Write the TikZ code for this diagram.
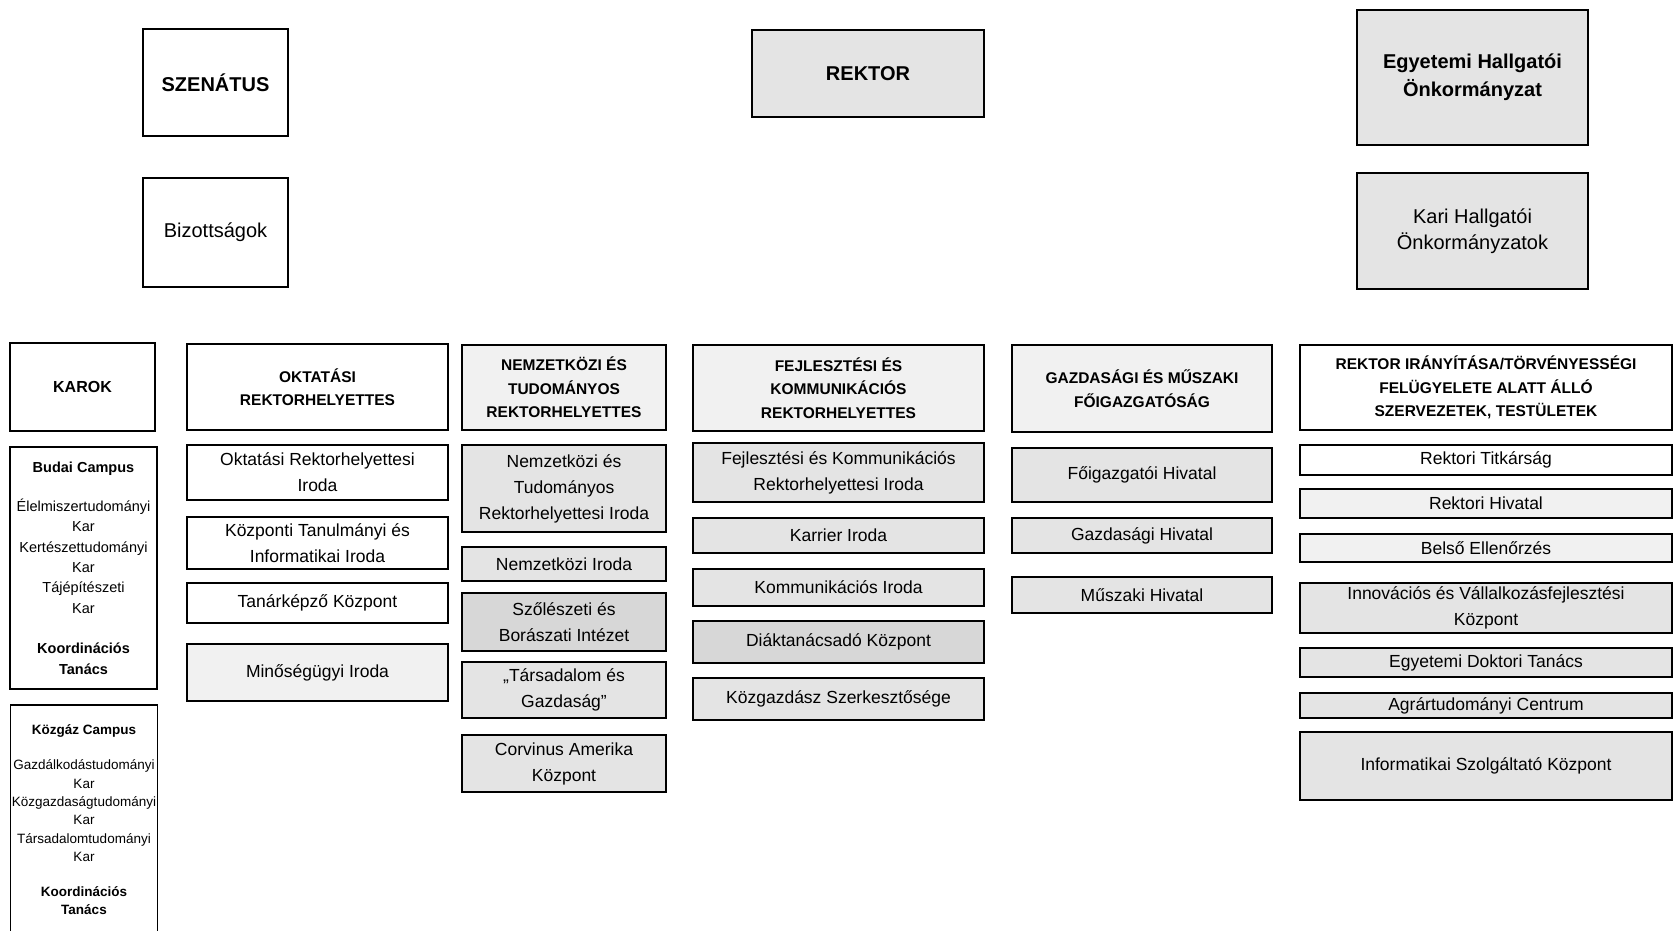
\documentclass[tikz,border=0pt]{standalone}
\usepackage{fontspec}
\setmainfont{Liberation Sans}
\begin{document}
\begin{tikzpicture}[x=1pt,y=-1pt,
    unit/.style={draw=black, line width=1.8pt, inner sep=0pt, align=center,
                 font=\fontsize{17.5}{26}\selectfont},
    head/.style={unit, font=\bfseries\fontsize{15.5}{23.5}\selectfont},
    lead/.style={unit, font=\bfseries\fontsize{20}{28}\selectfont},
    campus/.style={unit, font=\fontsize{14.5}{20.3}\selectfont}]
    % Define colors for the scanned grey fills
    \definecolor{scanlight}{RGB}{241,241,241}
    \definecolor{scanmid}{RGB}{228,228,228}
    \definecolor{scandark}{RGB}{215,215,215}

    % Page frame
    \clip (0,0) rectangle (1675,931);
    \fill[white] (0,0) rectangle (1675,931);

    % Top level bodies
    \node[lead, minimum width=145, minimum height=107] (szenatus) at (215.5,82.5) {SZENÁTUS};
    \node[unit, font=\fontsize{20}{28}\selectfont, minimum width=145, minimum height=109] (bizottsagok) at (215.5,232.5) {Bizottságok};
    \node[lead, fill=scanmid, minimum width=232, minimum height=87] (rektor) at (868,73.5) {REKTOR};
    \node[lead, fill=scanmid, minimum width=231, minimum height=135] (ehok) at (1472.5,77.5) {Egyetemi Hallgatói\\Önkormányzat};
    \node[unit, fill=scanmid, font=\fontsize{20}{26}\selectfont, minimum width=231, minimum height=116] (khok) at (1472.5,231) {Kari Hallgatói\\Önkormányzatok};

    % Faculties (left column)
    \node[head, font=\bfseries\fontsize{16}{23}\selectfont, minimum width=145, minimum height=88] (karok) at (82.5,387) {KAROK};
    \node[campus, minimum width=147, minimum height=242] (budai) at (83.5,568) {%
        \textbf{Budai Campus}\\[19pt]
        Élelmiszertudományi\\Kar\\Kertészettudományi\\Kar\\Tájépítészeti\\Kar\\[20.5pt]
        \textbf{Koordinációs}\\\textbf{Tanács}};
    \node[campus, font=\fontsize{13.5}{18.4}\selectfont, minimum width=147, minimum height=230] (kozgaz) at (84,820) {%
        \textbf{Közgáz Campus}\\[16.5pt]
        Gazdálkodástudományi\\Kar\\Közgazdaságtudományi\\Kar\\Társadalomtudományi\\Kar\\[16.5pt]
        \textbf{Koordinációs}\\\textbf{Tanács}};

    % Column heads
    \node[head, minimum width=261, minimum height=86] (okt) at (317.5,387) {OKTATÁSI\\REKTORHELYETTES};
    \node[head, fill=scanlight, minimum width=204, minimum height=85] (nem) at (564,387.5) {NEMZETKÖZI ÉS\\TUDOMÁNYOS\\REKTORHELYETTES};
    \node[head, fill=scanlight, minimum width=291, minimum height=86] (fej) at (838.5,388) {FEJLESZTÉSI ÉS\\KOMMUNIKÁCIÓS\\REKTORHELYETTES};
    \node[head, fill=scanlight, minimum width=260, minimum height=87] (gaz) at (1142,388.5) {GAZDASÁGI ÉS MŰSZAKI\\FŐIGAZGATÓSÁG};
    \node[head, minimum width=372, minimum height=85] (rek) at (1486,387.5) {REKTOR IRÁNYÍTÁSA/TÖRVÉNYESSÉGI\\FELÜGYELETE ALATT ÁLLÓ\\SZERVEZETEK, TESTÜLETEK};

    % Units under each head: y / height / fill / name / text
    \foreach \y/\h/\f/\name/\txt in {
        472.5/55/white/okt1/{Oktatási Rektorhelyettesi\\Iroda},
        543/52/white/okt2/{Központi Tanulmányi és\\Informatikai Iroda},
        603/40/white/okt3/{Tanárképző Központ},
        672.5/57/scanlight/okt4/{Minőségügyi Iroda}}
        \node[unit, fill=\f, minimum width=261, minimum height=\h] (\name) at (317.5,\y) {\txt};

    \foreach \y/\h/\f/\name/\txt in {
        488.5/87/scanmid/nem1/{Nemzetközi és\\Tudományos\\Rektorhelyettesi Iroda},
        564/34/scanmid/nem2/{Nemzetközi Iroda},
        622/58/scandark/nem3/{Szőlészeti és\\Borászati Intézet},
        690/56/scanmid/nem4/{„Társadalom és\\Gazdaság”},
        763.5/57/scanmid/nem5/{Corvinus Amerika\\Központ}}
        \node[unit, fill=\f, minimum width=204, minimum height=\h] (\name) at (564,\y) {\txt};

    \foreach \y/\h/\f/\name/\txt in {
        472.5/59/scanmid/fej1/{Fejlesztési és Kommunikációs\\Rektorhelyettesi Iroda},
        535.5/35/scanmid/fej2/{Karrier Iroda},
        587.5/37/scanmid/fej3/{Kommunikációs Iroda},
        642/42/scandark/fej4/{Diáktanácsadó Központ},
        699/42/scanmid/fej5/{Közgazdász Szerkesztősége}}
        \node[unit, fill=\f, minimum width=291, minimum height=\h] (\name) at (838.5,\y) {\txt};

    \foreach \y/\h/\f/\name/\txt in {
        475/54/scanmid/gaz1/{Főigazgatói Hivatal},
        535.5/35/scanmid/gaz2/{Gazdasági Hivatal},
        595/36/scanmid/gaz3/{Műszaki Hivatal}}
        \node[unit, fill=\f, minimum width=260, minimum height=\h] (\name) at (1142,\y) {\txt};

    \foreach \y/\h/\f/\name/\txt in {
        460/30/white/rek1/{Rektori Titkárság},
        503.5/29/scanlight/rek2/{Rektori Hivatal},
        548/28/scanlight/rek3/{Belső Ellenőrzés},
        608/50/scanmid/rek4/{Innovációs és Vállalkozásfejlesztési\\Központ},
        662.5/29/scanmid/rek5/{Egyetemi Doktori Tanács},
        705.5/25/scanmid/rek6/{Agrártudományi Centrum},
        766/68/scanmid/rek7/{Informatikai Szolgáltató Központ}}
        \node[unit, fill=\f, minimum width=372, minimum height=\h] (\name) at (1486,\y) {\txt};
\end{tikzpicture}
\end{document}
